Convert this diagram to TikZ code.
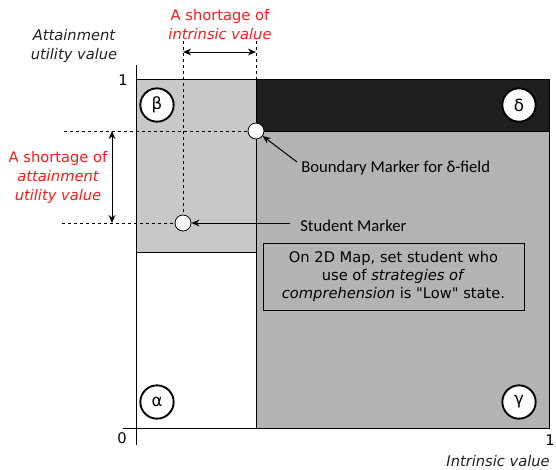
\documentclass[tikz,border=0pt]{standalone}
\usepackage{fontspec}
\setmainfont{DejaVu Sans}
\newfontfamily\calib{Carlito}
\usetikzlibrary{arrows.meta}
\definecolor{betagray}{HTML}{C8C8C8}
\definecolor{gammagray}{HTML}{B3B3B3}
\definecolor{deltablack}{HTML}{1E1E1E}
\definecolor{redtxt}{HTML}{FF1A1A}
\definecolor{axistxt}{HTML}{222222}
\begin{document}
\begin{tikzpicture}[x=0.75pt,y=-0.75pt,
  txt/.style={font=\fontsize{11}{14}\selectfont, inner sep=0pt},
  redlbl/.style={txt, text=redtxt, align=center},
  callbl/.style={inner sep=0pt, anchor=west, font=\calib\fontsize{12.5}{15}\selectfont},
  regionlbl/.style={circle, draw, line width=1.4pt, fill=white, minimum size=25pt, inner sep=0pt, font=\fontsize{12.5}{14}\selectfont},
  markerdot/.style={circle, draw, line width=0.6pt, fill=white, minimum size=12pt, inner sep=0pt},
  dashln/.style={dash pattern=on 2.5pt off 2pt, line width=0.6pt},
  arr/.style={-{Stealth[length=6pt,width=5pt]}, line width=0.75pt},
  darr/.style={{Stealth[length=6pt,width=5pt]}-{Stealth[length=6pt,width=5pt]}, line width=0.75pt}]
\useasboundingbox (0,0) rectangle (556,469);
% regions
\fill[betagray] (136,79) rectangle (256,252);
\fill[gammagray] (256,131) rectangle (549,428);
\fill[deltablack] (256,79) rectangle (549,131);
\draw[line width=0.75pt] (256,79) rectangle (549,428);
\draw[line width=0.75pt] (136,79) -- (256,79);
\draw[line width=0.75pt] (136,252) -- (256,252);
\draw[line width=0.75pt] (256,131) -- (549,131);
% axes
\draw[line width=0.75pt] (136,65) -- (136,445);
\draw[line width=0.75pt] (123,428) -- (549,428);
\node[txt] (y1) at (123,80) {1};
\node[txt] (x0) at (122,438) {0};
\node[txt] (x1) at (550,440) {1};
\node[txt, font=\fontsize{11}{14.25}\selectfont\itshape, text=axistxt, align=center] (ylab) at (74,45.5) {Attainment\\utility value};
\node[txt, font=\fontsize{11}{14}\selectfont\itshape, text=axistxt, anchor=east] (xlab) at (550,461) {Intrinsic value};
% region labels
\node[regionlbl] (beta) at (157,105) {β};
\node[regionlbl] (delta) at (519,105) {δ};
\node[regionlbl] (alpha) at (157,402) {α};
\node[regionlbl] (gamma) at (519,402) {γ};
% guide coordinates
\coordinate (tl) at (183,41);
\coordinate (tr) at (256,41);
\coordinate (al) at (183,52);
\coordinate (ar) at (256,52);
\coordinate (hl1) at (64,131);
\coordinate (hl2) at (62,223);
\coordinate (vt) at (112,131);
\coordinate (vb) at (112,223);
\coordinate (sqtop) at (256,79);
% markers
\node[markerdot] (bm) at (256,131) {};
\node[markerdot] (sm) at (183,223) {};
% dashed guides
\draw[dashln] (tl) -- (sm);
\draw[dashln] (tr) -- (sqtop);
\draw[dashln] (hl1) -- (bm);
\draw[dashln] (hl2) -- (sm);
% shortage arrows
\draw[darr] (al) -- (ar);
\draw[darr] (vt) -- (vb);
\node[redlbl, font=\fontsize{11}{14.25}\selectfont] (sil) at (220,25) {A shortage of\\\itshape intrinsic value};
\node[redlbl, font=\fontsize{11}{14.25}\selectfont] (sal) at (58,177) {A shortage of\\\itshape attainment\\\itshape utility value};
% marker labels
\node[callbl] (bml) at (301,168) {Boundary Marker for δ-field};
\node[callbl] (sml) at (300,226) {Student Marker};
\coordinate (bmt) at (297,162);
\coordinate (smt) at (290,223);
\draw[arr] (bmt) -- (bm);
\draw[arr] (smt) -- (sm);
% text box
\node[draw, line width=0.6pt, fill=gammagray, minimum width=195.75pt, minimum height=50.25pt, align=center, inner sep=0pt, font=\fontsize{11}{13.5}\selectfont] (box) at (393.5,276.5) {On 2D Map, set student who\\use of \textit{strategies of}\\\textit{comprehension} is \textquotedbl Low\textquotedbl{} state.};
\end{tikzpicture}
\end{document}
